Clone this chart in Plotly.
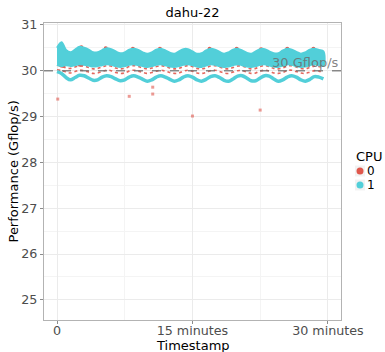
import plotly.graph_objects as go

# ---------------- data ----------------
t = [i * 0.5 for i in range(60)]  # minutes

cpu1_band_top = [30.50, 30.62, 30.45, 30.40, 30.46, 30.52, 30.50, 30.46, 30.40, 30.40,
                 30.45, 30.49, 30.47, 30.42, 30.38, 30.40, 30.46, 30.48, 30.45, 30.40,
                 30.37, 30.40, 30.46, 30.48, 30.44, 30.39, 30.37, 30.42, 30.47, 30.47,
                 30.42, 30.37, 30.38, 30.44, 30.48, 30.46, 30.41, 30.37, 30.40, 30.46,
                 30.48, 30.44, 30.39, 30.37, 30.42, 30.47, 30.47, 30.42, 30.38, 30.38,
                 30.44, 30.48, 30.46, 30.41, 30.37, 30.40, 30.46, 30.48, 30.45, 30.42]
cpu1_band_bot = [30.13, 30.10, 30.12, 30.10, 30.12, 30.14, 30.13, 30.11, 30.09, 30.10,
                 30.12, 30.14, 30.13, 30.10, 30.08, 30.10, 30.13, 30.14, 30.12, 30.10,
                 30.08, 30.10, 30.13, 30.14, 30.12, 30.09, 30.08, 30.10, 30.13, 30.14,
                 30.12, 30.09, 30.08, 30.11, 30.14, 30.13, 30.10, 30.08, 30.09, 30.12,
                 30.14, 30.12, 30.09, 30.08, 30.10, 30.13, 30.14, 30.11, 30.09, 30.08,
                 30.11, 30.14, 30.13, 30.10, 30.08, 30.09, 30.12, 30.14, 30.12, 30.11]
cpu1_low = [29.98, 29.94, 29.85, 29.80, 29.85, 29.90, 29.89, 29.84, 29.79, 29.80,
            29.86, 29.89, 29.87, 29.82, 29.78, 29.80, 29.86, 29.89, 29.86, 29.81,
            29.77, 29.80, 29.86, 29.89, 29.86, 29.81, 29.77, 29.80, 29.86, 29.89,
            29.86, 29.80, 29.77, 29.81, 29.87, 29.89, 29.85, 29.79, 29.77, 29.82,
            29.88, 29.89, 29.84, 29.78, 29.78, 29.84, 29.89, 29.88, 29.82, 29.77,
            29.80, 29.86, 29.89, 29.86, 29.80, 29.77, 29.81, 29.87, 29.86, 29.82]
cpu0_upper_dash = [30.12, 30.10, 30.06, 30.05, 30.08, 30.11, 30.10, 30.07, 30.04, 30.05,
                   30.08, 30.11, 30.10, 30.06, 30.04, 30.05, 30.09, 30.11, 30.09, 30.06,
                   30.04, 30.06, 30.09, 30.11, 30.09, 30.06, 30.04, 30.05, 30.09, 30.11,
                   30.09, 30.05, 30.04, 30.06, 30.10, 30.11, 30.08, 30.05, 30.04, 30.07,
                   30.10, 30.10, 30.07, 30.04, 30.05, 30.09, 30.11, 30.09, 30.05, 30.04,
                   30.06, 30.10, 30.11, 30.08, 30.05, 30.04, 30.07, 30.10, 30.09, 30.07]
cpu0_lower_dash = [30.02, 30.00, 29.97, 29.95, 29.98, 30.01, 30.00, 29.97, 29.94, 29.95,
                   29.98, 30.01, 30.00, 29.96, 29.94, 29.95, 29.99, 30.01, 29.99, 29.96,
                   29.94, 29.96, 29.99, 30.01, 29.99, 29.96, 29.94, 29.95, 29.99, 30.01,
                   29.99, 29.95, 29.94, 29.96, 30.00, 30.01, 29.98, 29.95, 29.94, 29.97,
                   30.00, 30.00, 29.97, 29.94, 29.95, 29.99, 30.01, 29.99, 29.95, 29.94,
                   29.96, 30.00, 30.01, 29.98, 29.95, 29.94, 29.97, 30.00, 29.99, 29.97]
cpu0_blob_t = [0.4, 0.6, 0.7, 2.4, 2.6, 2.9]
cpu0_blob_v = [30.20, 30.14, 30.22, 30.22, 30.16, 30.20]
cpu0_peak_t = [2.7, 5.4, 8.4, 11.4, 16.9, 19.9, 22.6, 25.5, 28.4]
cpu0_peak_v = [30.51, 30.49, 30.48, 30.48, 30.48, 30.48, 30.47, 30.48, 30.48]
cpu0_out_t = [0.08, 8.0, 10.6, 10.6, 15.0, 22.5]
cpu0_out_v = [29.38, 29.44, 29.64, 29.49, 29.01, 29.14]

ref_value = 30
ref_label = "30 Gflop/s"
x_tickvals = [0, 15, 30]
x_ticktext = ["0", "15 minutes", "30 minutes"]
y_tickvals = [25, 26, 27, 28, 29, 30, 31]
cpu_labels = ["0", "1"]

RED = "#E0574C"
CYAN = "#52CFD9"
FONT = "DejaVu Sans"

fig = go.Figure()

# CPU 0 (red) marks, drawn beneath CPU 1
for arr in (cpu0_upper_dash, cpu0_lower_dash):
    fig.add_trace(go.Scatter(x=t, y=arr, mode="lines", line=dict(color=RED, width=1.6, dash="dot", shape="spline"),
                             opacity=0.9, showlegend=False, hoverinfo="skip"))
fig.add_trace(go.Scatter(x=cpu0_blob_t, y=cpu0_blob_v, mode="markers",
                         marker=dict(color=RED, size=7, line=dict(width=0)), showlegend=False, hoverinfo="skip"))
fig.add_trace(go.Scatter(x=cpu0_peak_t, y=cpu0_peak_v, mode="markers",
                         marker=dict(color=RED, size=4, line=dict(width=0)), showlegend=False, hoverinfo="skip"))

# CPU 1 (cyan)
fig.add_trace(go.Scatter(x=t + t[::-1], y=cpu1_band_top + cpu1_band_bot[::-1], mode="lines",
                         fill="toself", fillcolor=CYAN, line=dict(color=CYAN, width=2, shape="spline"),
                         showlegend=False, hoverinfo="skip"))
fig.add_trace(go.Scatter(x=t, y=cpu1_low, mode="lines", line=dict(color=CYAN, width=3.5, shape="spline"),
                         showlegend=False, hoverinfo="skip"))

# outliers
fig.add_trace(go.Scatter(x=cpu0_out_t, y=cpu0_out_v, mode="markers",
                         marker=dict(color=RED, size=3, symbol="square", opacity=0.6, line=dict(width=0)),
                         showlegend=False, hoverinfo="skip"))

# reference line
fig.add_shape(type="line", xref="x domain", x0=0, x1=1, yref="y", y0=ref_value, y1=ref_value,
              line=dict(color="rgba(110,110,110,0.8)", width=1.5, dash="dash"), layer="above")
fig.add_annotation(x=1, xref="x domain", y=ref_value + 0.17, yref="y", text=ref_label, showarrow=False,
                   xanchor="right", yanchor="middle", font=dict(family=FONT, size=13, color="rgba(110,110,110,0.85)"))

# manual legend (ggplot style)
def px_x(px):
    return (px - 44) / 297

def px_y(py):
    return (320 - py) / 297

fig.add_annotation(x=px_x(354), y=px_y(157), xref="paper", yref="paper", xanchor="left", yanchor="middle",
                   text="CPU", showarrow=False, font=dict(family=FONT, size=13, color="black"))
for i, (lab, col) in enumerate(zip(cpu_labels, (RED, CYAN))):
    cy = 171 + 14 * i
    fig.add_shape(type="rect", xref="paper", yref="paper",
                  x0=px_x(355), x1=px_x(365), y0=px_y(cy + 5.5), y1=px_y(cy - 5.5),
                  fillcolor="#F2F2F2", line=dict(width=0))
    fig.add_shape(type="circle", xref="paper", yref="paper",
                  x0=px_x(356.5), x1=px_x(363.5), y0=px_y(cy + 3.5), y1=px_y(cy - 3.5),
                  fillcolor=col, line=dict(width=0))
    fig.add_annotation(x=px_x(366), y=px_y(cy), xref="paper", yref="paper", xanchor="left", yanchor="middle",
                       text=lab, showarrow=False, font=dict(family=FONT, size=12, color="black"), borderpad=0)

fig.add_annotation(x=0.5, xref="paper", y=0, yref="paper", yanchor="top", text="Timestamp",
                   showarrow=False, font=dict(family=FONT, size=13, color="black"), yshift=-16)
fig.add_annotation(x=px_x(13), xref="paper", xanchor="center", y=0.5, yref="paper", text="Performance (Gflop/s)",
                   textangle=-90, showarrow=False, font=dict(family=FONT, size=13, color="black"))

axis_common = dict(showline=True, linecolor="#B3B3B3", linewidth=1, mirror=True, ticks="outside",
                   ticklen=3, tickcolor="#8C8C8C", gridcolor="#EBEBEB", gridwidth=1, zeroline=False,
                   tickfont=dict(family=FONT, size=12.7, color="#4D4D4D"))

fig.update_layout(
    width=385, height=352,
    margin=dict(l=44, r=44, t=23, b=32, autoexpand=False),
    plot_bgcolor="white", paper_bgcolor="white",
    title=dict(text="dahu-22", x=0.5, xanchor="center", xref="paper", y=0.965, yanchor="middle",
               font=dict(family=FONT, size=13, color="black")),
    xaxis=dict(range=[-1.44, 31.45], tickvals=x_tickvals, ticktext=x_ticktext, ticklabelstandoff=-4,
               minor=dict(tickvals=[7.5, 22.5], showgrid=True, gridcolor="#F4F4F4", gridwidth=0.6, ticks=""),
               **axis_common),
    yaxis=dict(range=[24.56, 31.04], tickvals=y_tickvals,
               minor=dict(tickvals=[24.5, 25.5, 26.5, 27.5, 28.5, 29.5, 30.5], showgrid=True,
                          gridcolor="#F4F4F4", gridwidth=0.6, ticks=""),
               **axis_common),
    showlegend=False,
)

fig.write_html("out.html")
